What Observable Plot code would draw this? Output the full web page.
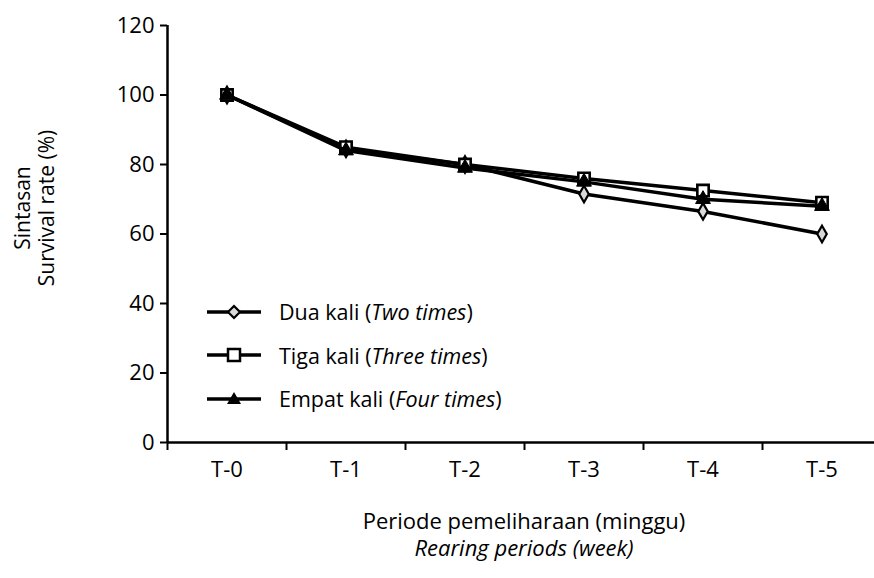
<!DOCTYPE html>
<html>
<head>
<meta charset="utf-8">
<script src="https://cdn.jsdelivr.net/npm/d3@7"></script>
<script src="https://cdn.jsdelivr.net/npm/@observablehq/plot@0.6"></script>
<style>
  html, body { margin: 0; padding: 0; background: #fff; }
  #wrap { position: relative; width: 874px; height: 578px; font-family: "Open Sans", sans-serif; color: #000; }
  #wrap svg text { font-size: 22px; fill: #000; }
  #legend { position: absolute; left: 205px; top: 290px; font-size: 21.5px; }
  .row { display: flex; align-items: center; height: 43.5px; }
  .row svg { margin-right: 16px; }
  .ylab { position: absolute; left: 34px; top: 208px; transform: translate(-50%, -50%) rotate(-90deg); text-align: center; font-size: 21px; line-height: 24px; white-space: nowrap; }
  .xlab { position: absolute; left: 524px; top: 507px; transform: translateX(-50%); text-align: center; font-size: 22px; line-height: 27px; white-space: nowrap; }
</style>
</head>
<body>
<div id="wrap"></div>
<script>
const periods = ["T-0", "T-1", "T-2", "T-3", "T-4", "T-5"];
const duaKali   = [100, 84.5, 80, 71.5, 66.5, 60];
const tigaKali  = [100, 85, 80, 76, 72.5, 69];
const empatKali = [100, 84, 79, 75, 70, 68];
const yTicks = [0, 20, 40, 60, 80, 100, 120];
const seriesNames = ["Dua kali", "Tiga kali", "Empat kali"];
const seriesItalic = ["Two times", "Three times", "Four times"];

const toRows = (vals) => vals.map((v, i) => ({i, v}));
const dua = toRows(duaKali), tiga = toRows(tigaKali), empat = toRows(empatKali);
const boundaries = d3.range(periods.length + 1).map(i => i - 0.5);

const chart = Plot.plot({
  width: 874,
  height: 578,
  marginLeft: 167, marginRight: 0, marginTop: 25, marginBottom: 136,
  style: {fontFamily: "Open Sans, sans-serif", color: "#000", background: "#fff"},
  x: {type: "linear", domain: [-0.5, periods.length - 0.5], range: [167, 881]},
  y: {domain: [0, 120], range: [442, 25]},
  marks: [
    Plot.axisY({ticks: yTicks, tickSize: 7, tickPadding: 6, strokeWidth: 2, label: null}),
    Plot.axisX({ticks: boundaries, tickSize: 8, tickFormat: () => "", strokeWidth: 2, label: null}),
    Plot.axisX({ticks: d3.range(periods.length), tickSize: 0, tickPadding: 19, tickFormat: i => periods[i], label: null}),
    Plot.ruleX([-0.5], {y1: 0, y2: 120, strokeWidth: 2.5}),
    Plot.ruleY([0], {x1: -0.5, x2: periods.length - 0.5 + 0.2, strokeWidth: 2.5}),
    Plot.line(dua, {x: "i", y: "v", stroke: "#000", strokeWidth: 3.5}),
    Plot.dot(dua, {x: "i", y: "v", symbol: "diamond", r: 5, fill: "#d9d9d9", stroke: "#000", strokeWidth: 2.2}),
    Plot.line(tiga, {x: "i", y: "v", stroke: "#000", strokeWidth: 3.5}),
    Plot.dot(tiga, {x: "i", y: "v", symbol: "square", r: 6.4, fill: "#fff", stroke: "#000", strokeWidth: 2.6}),
    Plot.line(empat, {x: "i", y: "v", stroke: "#000", strokeWidth: 3.5}),
    Plot.dot(empat, {x: "i", y: "v", symbol: "triangle", r: 5.5, fill: "#000", stroke: "#000", strokeWidth: 1})
  ]
});

const wrap = document.getElementById("wrap");
wrap.appendChild(chart);

// Legend
const legend = document.createElement("div");
legend.id = "legend";
legend.innerHTML = seriesNames.map((n, k) =>
  `<div class="row"><svg width="58" height="20" viewBox="0 0 58 20"><line x1="2" y1="10" x2="56" y2="10" stroke="#000" stroke-width="3.5"/>${
    k === 0 ? '<path d="M29,4 L35,10 L29,16 L23,10 Z" fill="#d9d9d9" stroke="#000" stroke-width="2.2"/>' :
    k === 1 ? '<rect x="23" y="4" width="12" height="12" fill="#fff" stroke="#000" stroke-width="2.5"/>' :
              '<path d="M29,3 L36,15 L22,15 Z" fill="#000"/>'
  }</svg><span>${n} (<i>${seriesItalic[k]}</i>)</span></div>`
).join("");
wrap.appendChild(legend);

const ylab = document.createElement("div");
ylab.className = "ylab";
ylab.innerHTML = "Sintasan<br>Survival rate (%)";
wrap.appendChild(ylab);

const xlab = document.createElement("div");
xlab.className = "xlab";
xlab.innerHTML = "Periode pemeliharaan (minggu)<br><i>Rearing periods (week)</i>";
wrap.appendChild(xlab);
</script>
</body>
</html>
